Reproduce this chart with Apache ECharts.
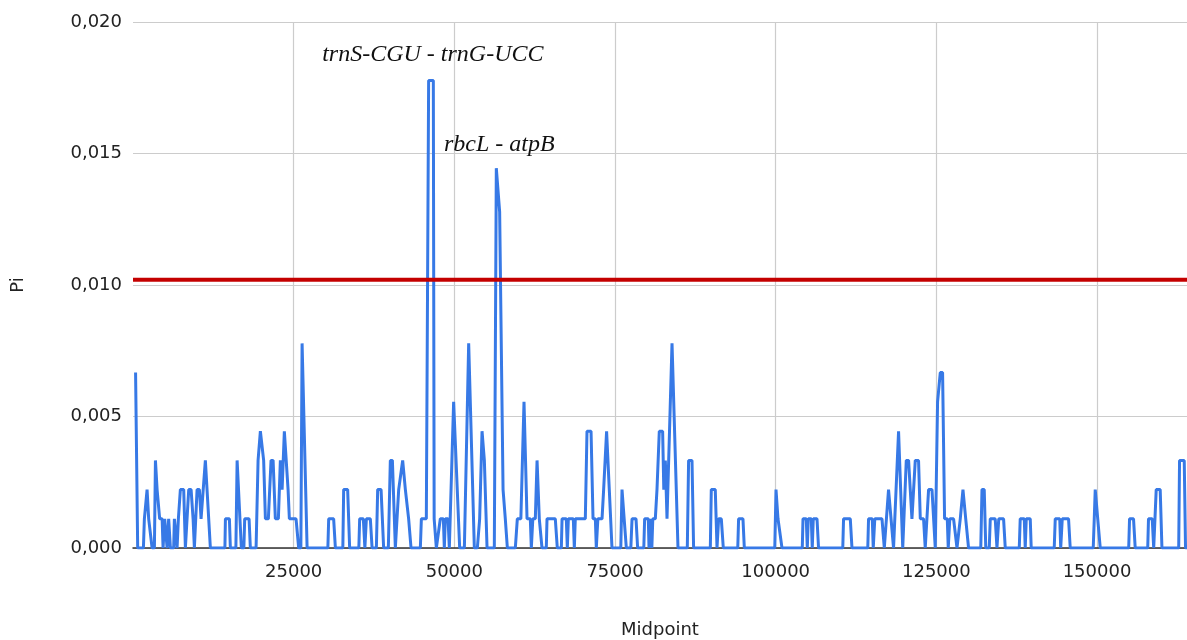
<!DOCTYPE html>
<html>
<head>
<meta charset="utf-8">
<title>Pi sliding window</title>
<script src="https://cdn.jsdelivr.net/npm/echarts@6.0.0/dist/echarts.min.js"></script>
<style>
    html, body { margin: 0; padding: 0; background: #fff; }
    #chart { width: 1187px; height: 640px; }
</style>
</head>
<body>
<div id="chart"></div>
<script>
// midpoints (bp) of the sliding windows
const midpoint = [
    400, 730, 1620, 1770, 2190, 2440, 2710, 2970, 3330, 3490,
    3750, 4150, 4530, 4680, 4930, 5310, 5550, 5820, 6330, 6440,
    6860, 7060, 7270, 7370, 7890, 8150, 8670, 9040, 9350, 9550,
    9970, 10330, 10590, 10900, 11260, 11530, 12040, 14300, 14380, 15000,
    15150, 16010, 16200, 16510, 16860, 17250, 17380, 18060, 18260, 19150,
    19460, 19820, 20080, 20330, 20600, 21060, 21480, 21800, 22150, 22620,
    22930, 23200, 23550, 23820, 24130, 24330, 25370, 25780, 26120, 26310,
    26560, 27090, 30320, 30450, 31220, 31490, 32650, 32780, 33400, 33710,
    35140, 35270, 35840, 36080, 36310, 36930, 37200, 37870, 38070, 38600,
    39000, 39730, 40040, 40360, 40820, 41130, 41340, 41600, 41960, 42110,
    42380, 42640, 42890, 43260, 44710, 44870, 45640,
    46000, 46730, 46860, 47200, 47820, 48290, 48440, 48600, 49020, 49220, 49490, 49890,
    50830, 51560, 52230, 52490, 53110, 53580, 53940, 54310, 54470, 54670,
    55090, 56220, 56530, 56800, 57050, 57580, 57930, 58250, 59490, 59800,
    60350, 60840, 61310, 61820, 61980, 62210, 62600, 62870, 63220, 63640,
    64310, 64420, 65710, 66020, 66650, 66760, 67420, 67580, 67740, 68510,
    68670, 68820, 70380, 70640, 71270, 71580, 71940, 72090, 72330, 72980,
    73230, 73690, 73850, 74110, 74530, 75900, 76090, 76340, 76760, 77460,
    77650, 78270, 78520, 79480, 79610, 80180, 80290, 80490, 80730, 80880,
    81270, 81530, 81890, 82410, 82590, 82830, 83090, 83870, 84120, 84800,
    86250, 86450, 86980, 87230, 89830, 89980, 90600, 90870, 91120, 91540,
    91850, 94100, 94230, 94910, 95120, 99860, 100050, 100360, 100560, 100980,
    104140, 104250, 104760, 104920, 105070, 105540, 105690, 105850, 106430, 106670,
    110440, 110560, 111610, 111870, 114330, 114450, 115030, 115180, 115420, 116540,
    116900, 117560, 117830, 118340, 119120, 119380, 119770, 120320, 120680, 121200,
    121720, 122230, 122500, 123010, 123270, 123790, 124320, 124830, 125190, 125610,
    125970, 126280, 126700, 126850, 127090, 127680, 128210, 128490, 128720, 129140,
    129340, 129570, 130010, 131910, 132100, 132450, 132690, 133230, 133390, 134160,
    134430, 134710, 135460, 135720, 137900, 138050, 138680, 138830, 138990, 139610,
    139760, 143340, 143500, 144200, 144350, 144590, 145570, 145830, 149410, 149570,
    149720, 149920, 150110, 150500, 154930, 155060, 155680, 155940, 157890, 158010,
    158590, 158820, 159210, 159830, 160100, 162710, 162840, 163570, 163770, 164000
];

// nucleotide diversity for each midpoint
const pi = [
    0.00667, 0, 0, 0.00111, 0.00222, 0.00111, 0.00111, 0, 0, 0.00333,
    0.00222, 0.00111, 0.00111, 0, 0.00111, 0, 0.00111, 0, 0, 0.00111,
    0, 0.00111, 0.00111, 0.00222, 0.00222, 0, 0.00222, 0.00222, 0.00111, 0,
    0.00222, 0.00222, 0.00111, 0.00111, 0.00333, 0.00333, 0, 0, 0.00111, 0.00111,
    0, 0, 0.00333, 0.00333, 0, 0, 0.00111, 0.00111, 0, 0,
    0.00333, 0.00444, 0.00444, 0.00333, 0.00111, 0.00111, 0.00333, 0.00333, 0.00111, 0.00111,
    0.00333, 0.00222, 0.00444, 0.00444, 0.00222, 0.00111, 0.00111, 0, 0, 0.00778,
    0.00778, 0, 0, 0.00111, 0.00111, 0, 0, 0.00222, 0.00222, 0,
    0, 0.00111, 0.00111, 0, 0.00111, 0.00111, 0, 0, 0.00222, 0.00222,
    0, 0, 0.00333, 0.00333, 0, 0, 0.00222, 0.00222, 0.00333, 0.00333,
    0.00222, 0.00222, 0.00111, 0, 0, 0.00111, 0.00111,
    0.01778, 0.01778, 0.00111, 0, 0.00111, 0.00111, 0, 0.00111, 0.00111, 0, 0, 0.00556,
    0, 0, 0.00778, 0.00778, 0, 0, 0.00111, 0.00444, 0.00444, 0.00333,
    0, 0, 0.01444, 0.01444, 0.01278, 0.00222, 0.00111, 0, 0, 0.00111,
    0.00111, 0.00556, 0.00111, 0.00111, 0, 0.00111, 0.00111, 0.00333, 0.00111, 0,
    0, 0.00111, 0.00111, 0, 0, 0.00111, 0.00111, 0, 0.00111, 0.00111,
    0, 0.00111, 0.00111, 0.00444, 0.00444, 0.00111, 0.00111, 0, 0.00111, 0.00111,
    0.00222, 0.00444, 0.00444, 0.00222, 0, 0, 0.00222, 0.00222, 0, 0,
    0.00111, 0.00111, 0, 0, 0.00111, 0.00111, 0, 0.00111, 0, 0.00111,
    0.00111, 0.00222, 0.00444, 0.00444, 0.00222, 0.00333, 0.00111, 0.00778, 0.00778, 0,
    0, 0.00333, 0.00333, 0, 0, 0.00222, 0.00222, 0, 0.00111, 0.00111,
    0, 0, 0.00111, 0.00111, 0, 0, 0.00222, 0.00111, 0.00111, 0,
    0, 0.00111, 0.00111, 0, 0.00111, 0.00111, 0, 0.00111, 0.00111, 0,
    0, 0.00111, 0.00111, 0, 0, 0.00111, 0.00111, 0, 0.00111, 0.00111,
    0, 0.00222, 0.00222, 0, 0.00444, 0.00444, 0, 0.00333, 0.00333, 0.00111,
    0.00333, 0.00333, 0.00111, 0.00111, 0, 0.00222, 0.00222, 0, 0.00556, 0.00667,
    0.00667, 0.00111, 0.00111, 0, 0.00111, 0.00111, 0, 0, 0.00111, 0.00222,
    0.00222, 0.00111, 0, 0, 0.00222, 0.00222, 0, 0, 0.00111, 0.00111,
    0, 0.00111, 0.00111, 0, 0, 0.00111, 0.00111, 0, 0.00111, 0.00111,
    0, 0, 0.00111, 0.00111, 0, 0.00111, 0.00111, 0, 0, 0.00111,
    0.00222, 0.00222, 0.00111, 0, 0, 0.00111, 0.00111, 0, 0, 0.00111,
    0.00111, 0, 0.00222, 0.00222, 0, 0, 0.00333, 0.00333, 0, 0
];

// cut-off line
const threshold = 0.0102;

// hotspot labels and where they sit (data coords)
const hotspotNames = ['trnS-CGU - trnG-UCC', 'rbcL - atpB'];
const hotspotMid = [46650, 57000];
const hotspotPi = [0.01877, 0.01535];

const xTicks = {min: 0, max: 164000, interval: 25000};
const yTicks = {min: 0, max: 0.02, interval: 0.005};

const labelFont = 'DejaVu Sans';

const chart = echarts.init(document.getElementById('chart'));

const option = {
    animation: false,
    backgroundColor: '#fff',
    // fixed plot box, don't let the labels push it around
    grid: {left: 133, right: 0, top: 22, bottom: 92, outerBoundsMode: 'none'},
    xAxis: {
        type: 'value',
        min: xTicks.min,
        max: xTicks.max,
        interval: xTicks.interval,
        name: 'Midpoint',
        nameLocation: 'middle',
        nameGap: 73,
        nameTextStyle: {fontFamily: labelFont, fontSize: 18, color: '#222'},
        axisLine: {show: true, lineStyle: {color: '#333', width: 1.5}},
        axisTick: {show: false},
        axisLabel: {
            showMinLabel: false,
            showMaxLabel: false,
            margin: 15,
            fontFamily: labelFont,
            fontSize: 18,
            color: '#222',
            // plain numbers, no thousands separator
            formatter: (v) => String(v)
        },
        splitLine: {
            show: true,
            showMinLine: false,
            showMaxLine: false,
            lineStyle: {color: '#cccccc', width: 1.2}
        }
    },
    yAxis: {
        type: 'value',
        min: yTicks.min,
        max: yTicks.max,
        interval: yTicks.interval,
        name: 'Pi',
        nameLocation: 'middle',
        nameRotate: 90,
        nameGap: 106,
        nameTextStyle: {fontFamily: labelFont, fontSize: 18, color: '#222'},
        axisLine: {show: false},
        axisTick: {show: false},
        axisLabel: {
            margin: 11,
            fontFamily: labelFont,
            fontSize: 18,
            color: '#222',
            formatter: (v) => v.toFixed(3).replace('.', ',')
        },
        splitLine: {lineStyle: {color: '#cccccc', width: 1.2}}
    },
    series: [
        {
            name: 'Pi',
            type: 'line',
            data: midpoint.map((m, i) => [m, pi[i]]),
            showSymbol: false,
            lineStyle: {color: '#3779e6', width: 3},
            z: 3
        },
        {
            // threshold across the whole axis, above the curve
            name: 'threshold',
            type: 'line',
            data: [[xTicks.min, threshold], [xTicks.max, threshold]],
            showSymbol: false,
            silent: true,
            lineStyle: {color: '#c40000', width: 4},
            z: 4
        }
    ]
};

chart.setOption(option);

// italic hotspot names, placed from data coordinates
chart.setOption({
    graphic: hotspotNames.map((name, i) => {
        const p = chart.convertToPixel({gridIndex: 0}, [hotspotMid[i], hotspotPi[i]]);
        return {
            type: 'text',
            x: p[0],
            y: p[1],
            z: 10,
            style: {
                text: name,
                fill: '#111',
                font: 'italic 24px "Liberation Serif"',
                align: 'center',
                verticalAlign: 'middle'
            }
        };
    })
});
</script>
</body>
</html>
